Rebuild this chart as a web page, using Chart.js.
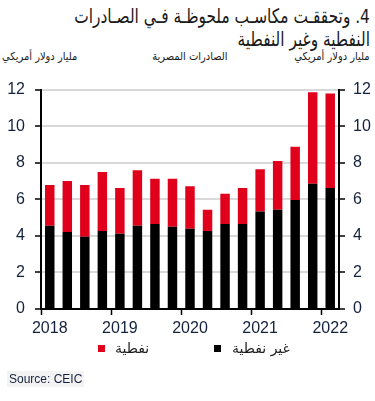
<!DOCTYPE html>
<html lang="ar">
<head>
  <meta charset="UTF-8" />
  <title>الصادرات المصرية</title>
  <script src="https://cdn.jsdelivr.net/npm/chart.js"></script>
  <style>
    body { margin: 0; width: 375px; height: 401px; background: #fff; position: relative; overflow: hidden; font-family: 'DejaVu Sans', sans-serif; }
    .title { position: absolute; right: 5px; top: 5px; direction: rtl; text-align: right; white-space: nowrap; font-size: 20px; line-height: 23px; color: #1a1a1a; transform: scaleX(0.77); transform-origin: right top; }
    .unit { position: absolute; top: 50px; font-size: 11px; color: #1a1a1a; direction: rtl; white-space: nowrap; transform: scaleX(0.9); }
    #wrap { position: absolute; left: 0; top: 70px; width: 375px; height: 275px; }
    .legend { position: absolute; top: 340px; font-size: 14px; color: #1a1a1a; direction: rtl; white-space: nowrap; }
    .sq { position: absolute; top: 345px; width: 7px; height: 7px; }
    .source { position: absolute; left: 7px; top: 371px; padding: 1px 2px; background: #f3f3f3; font-family: 'Liberation Sans Narrow', 'Liberation Sans', Arial, sans-serif; font-size: 12px; color: #14213d; }
  </style>
</head>
<body>

  <div class="title">4. وتحققـت مكاسـب ملحوظـة فـي الصـادرات<br>النفطية وغير النفطية</div>

  <div class="unit" style="left:2px; transform-origin: left top">مليار دولار أمريكي</div>
  <div class="unit" style="left:148px">الصادرات المصرية</div>
  <div class="unit" style="right:5px; transform-origin: right top">مليار دولار أمريكي</div>

  <div id="wrap"><canvas id="grafico"></canvas></div>

  <!-- legenda -->
  <div class="sq" style="left:98px; background:#e0001b"></div>
  <div class="legend" style="left:115px">نفطية</div>
  <div class="sq" style="left:214px; background:#000"></div>
  <div class="legend" style="left:232px">غير نفطية</div>

  <div class="source">Source: CEIC</div>

  <script>
    // trimestres 2018T1 .. 2022T1
    const trimestres = ['2018', '', '', '', '2019', '', '', '', '2020', '', '', '', '2021', '', '', '', '2022'];
    const naoPetroleo = [4.55, 4.21, 3.95, 4.27, 4.11, 4.55, 4.65, 4.50, 4.39, 4.27, 4.65, 4.65, 5.33, 5.43, 5.96, 6.85, 6.62];
    const petroleo = [2.23, 2.79, 2.83, 3.22, 2.51, 3.04, 2.47, 2.62, 2.32, 1.16, 1.65, 1.97, 2.32, 2.66, 2.91, 5.01, 5.17];
    const ticksY = [0, 2, 4, 6, 8, 10, 12];

    const fonte = { family: "'Liberation Sans Narrow', 'Liberation Sans', Arial, sans-serif", size: 16 };
    const corTexto = '#14213d';

    const eixoY = (pos, largura, padding, grade) => ({
      position: pos,
      stacked: true,
      min: 0,
      max: 12,
      afterBuildTicks: s => { s.ticks = ticksY.map(v => ({ value: v })); },
      afterFit: s => { s.width = largura; },
      border: { color: '#000', width: 2 },
      grid: { color: '#d9d9d9', lineWidth: 2, tickColor: '#000', tickLength: 6, tickWidth: 1.5, drawOnChartArea: grade },
      ticks: { color: corTexto, font: fonte, padding: padding }
    });

    new Chart(document.getElementById('grafico').getContext('2d'), {
      type: 'bar',
      data: {
        labels: trimestres,
        datasets: [
          { label: 'غير نفطية', data: naoPetroleo, backgroundColor: '#000000' },
          { label: 'نفطية', data: petroleo, backgroundColor: '#e0001b' }
        ]
      },
      options: {
        responsive: true,
        maintainAspectRatio: false,
        animation: false,
        layout: { padding: { top: 14, left: 0, right: 0, bottom: 0 } },
        datasets: { bar: { barPercentage: 0.54, categoryPercentage: 1 } },
        scales: {
          x: {
            stacked: true,
            afterFit: s => { s.height = 36; },
            border: { color: '#000', width: 2 },
            grid: {
              offset: true,
              drawOnChartArea: false,
              tickLength: 6,
              tickWidth: 1.5,
              tickColor: ctx => (trimestres[ctx.index] ? '#000' : 'rgba(0,0,0,0)')
            },
            ticks: { color: corTexto, font: fonte, padding: 4, maxRotation: 0, autoSkip: false }
          },
          y: eixoY('left', 41, 10, true),
          y2: eixoY('right', 36, 8, false)
        },
        plugins: {
          legend: { display: false },
          tooltip: { enabled: false }
        }
      }
    });
  </script>

</body>
</html>
